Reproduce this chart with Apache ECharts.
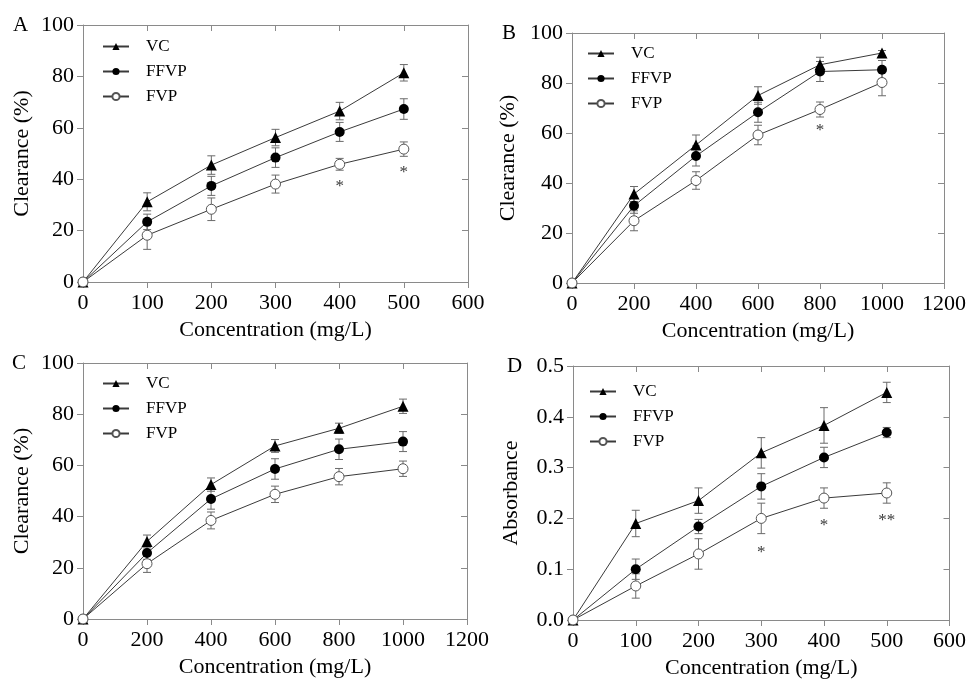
<!DOCTYPE html>
<html>
<head>
<meta charset="utf-8">
<script src="https://cdn.jsdelivr.net/npm/echarts@6/dist/echarts.min.js"></script>
<style>
  html, body { margin: 0; padding: 0; background: #fff; }
  #chart { width: 969px; height: 680px; }
</style>
</head>
<body>
<div id="chart"></div>
<script>
// Concentrations (mg/L)
const concAD = [0, 100, 200, 300, 400, 500];
const concBC = [0, 200, 400, 600, 800, 1000];

// Panel A - clearance (%)
const vcA = [0, 31.2, 45.5, 56.2, 66.5, 81.4];
const vcAErr = [0, 3.5, 3.6, 3.2, 3.4, 3.2];
const ffvpA = [0, 23.4, 37.4, 48.4, 58.4, 67.3];
const ffvpAErr = [0, 3.0, 3.7, 3.8, 3.7, 4.0];
const fvpA = [0, 18.2, 28.3, 38.1, 45.8, 51.7];
const fvpAErr = [0, 5.5, 4.4, 3.5, 2.3, 2.8];
const starXA = [400, 500];
const starYA = [38.6, 44.2];
const starTextA = ["*", "*"];

// Panel B - clearance (%)
const vcB = [0, 35.6, 55.2, 75.0, 87.3, 92.0];
const vcBErr = [0, 3.0, 4.0, 3.5, 3.0, 1.0];
const ffvpB = [0, 30.9, 50.8, 68.3, 84.6, 85.3];
const ffvpBErr = [0, 3.0, 4.0, 4.0, 4.0, 3.7];
const fvpB = [0, 24.9, 41.0, 59.2, 69.4, 80.2];
const fvpBErr = [0, 4.0, 3.5, 3.9, 3.0, 5.3];
const starXB = [800];
const starYB = [62.6];
const starTextB = ["*"];

// Panel C - clearance (%)
const vcC = [0, 30.3, 52.5, 67.6, 74.5, 83.1];
const vcCErr = [0, 2.5, 2.6, 2.5, 2.0, 2.8];
const ffvpC = [0, 25.8, 46.9, 58.6, 66.3, 69.3];
const ffvpCErr = [0, 2.5, 4.0, 4.0, 4.0, 3.9];
const fvpC = [0, 21.6, 38.5, 48.7, 55.6, 58.7];
const fvpCErr = [0, 3.4, 3.3, 3.2, 3.2, 3.0];

// Panel D - absorbance
const vcD = [0, 0.190, 0.235, 0.329, 0.383, 0.448];
const vcDErr = [0, 0.026, 0.025, 0.030, 0.035, 0.020];
const ffvpD = [0, 0.100, 0.184, 0.263, 0.320, 0.369];
const ffvpDErr = [0, 0.020, 0.014, 0.025, 0.020, 0.010];
const fvpD = [0, 0.067, 0.130, 0.200, 0.240, 0.250];
const fvpDErr = [0, 0.024, 0.030, 0.030, 0.020, 0.020];
const starXD = [300, 400, 500];
const starYD = [0.140, 0.194, 0.203];
const starTextD = ["*", "*", "**"];

const FONT = "Liberation Serif";
const AXIS_GRAY = "#8a8a8a";
const LINE_GRAY = "#3a3a3a";
const ERR_GRAY = "#6a6a6a";

const grids = [
  { left: 83, top: 25, width: 385, height: 257 },
  { left: 572, top: 33, width: 374, height: 250 },
  { left: 83, top: 363, width: 384, height: 256 },
  { left: 573, top: 366, width: 380, height: 254 },
];

const panels = [
  { x: concAD, xMax: 600, xInt: 100, yMax: 100, yInt: 20, yName: "Clearance (%)", yGap: 50, dec: 0,
    vc: [vcA, vcAErr], ffvp: [ffvpA, ffvpAErr], fvp: [fvpA, fvpAErr],
    stars: [starXA, starYA, starTextA], legend: [102, 38] },
  { x: concBC, xMax: 1200, xInt: 200, yMax: 100, yInt: 20, yName: "Clearance (%)", yGap: 53, dec: 0,
    vc: [vcB, vcBErr], ffvp: [ffvpB, ffvpBErr], fvp: [fvpB, fvpBErr],
    stars: [starXB, starYB, starTextB], legend: [587, 45] },
  { x: concBC, xMax: 1200, xInt: 200, yMax: 100, yInt: 20, yName: "Clearance (%)", yGap: 50, dec: 0,
    vc: [vcC, vcCErr], ffvp: [ffvpC, ffvpCErr], fvp: [fvpC, fvpCErr],
    stars: [[], [], []], legend: [102, 375] },
  { x: concAD, xMax: 600, xInt: 100, yMax: 0.5, yInt: 0.1, yName: "Absorbance", yGap: 51, dec: 1,
    vc: [vcD, vcDErr], ffvp: [ffvpD, ffvpDErr], fvp: [fvpD, fvpDErr],
    stars: [starXD, starYD, starTextD], legend: [589, 383] },
];

const letters = [
  { t: "A", x: 13, y: 25 },
  { t: "B", x: 502, y: 33 },
  { t: "C", x: 12, y: 363 },
  { t: "D", x: 507, y: 366 },
];

// error bar: vertical line with caps
function renderErr(params, api) {
  const x = api.value(0);
  const lo = api.coord([x, api.value(1)]);
  const hi = api.coord([x, api.value(2)]);
  const w = 4;
  const st = { stroke: ERR_GRAY, lineWidth: 1 };
  return {
    type: "group",
    children: [
      { type: "line", shape: { x1: lo[0], y1: lo[1], x2: hi[0], y2: hi[1] }, style: st },
      { type: "line", shape: { x1: lo[0] - w, y1: lo[1], x2: lo[0] + w, y2: lo[1] }, style: st },
      { type: "line", shape: { x1: hi[0] - w, y1: hi[1], x2: hi[0] + w, y2: hi[1] }, style: st },
    ],
  };
}

const styles = {
  VC: { symbol: "triangle", symbolSize: 11, itemStyle: { color: "#000", borderColor: "#000", borderWidth: 0 } },
  FFVP: { symbol: "circle", symbolSize: 10, itemStyle: { color: "#000", borderColor: "#000", borderWidth: 0 } },
  FVP: { symbol: "circle", symbolSize: 10, itemStyle: { color: "#fff", borderColor: "#555", borderWidth: 1 } },
};

const xAxes = [];
const yAxes = [];
const series = [];
const legends = [];

panels.forEach((p, g) => {
  // bottom + top mirror
  xAxes.push({
    type: "value", gridIndex: g, min: 0, max: p.xMax, interval: p.xInt, position: "bottom",
    name: "Concentration (mg/L)", nameLocation: "middle", nameGap: 37,
    nameTextStyle: { fontFamily: FONT, fontSize: 22, color: "#000" },
    axisLine: { onZero: false, lineStyle: { color: AXIS_GRAY } },
    axisTick: { length: 6, lineStyle: { color: AXIS_GRAY } },
    axisLabel: { fontFamily: FONT, fontSize: 22, color: "#000", margin: 10, formatter: (v) => String(v) },
    splitLine: { show: false },
  });
  xAxes.push({
    type: "value", gridIndex: g, min: 0, max: p.xMax, interval: p.xInt, position: "top",
    axisLine: { onZero: false, lineStyle: { color: AXIS_GRAY } },
    axisTick: { inside: true, length: 6, lineStyle: { color: AXIS_GRAY } },
    axisLabel: { show: false },
    splitLine: { show: false },
  });
  yAxes.push({
    type: "value", gridIndex: g, min: 0, max: p.yMax, interval: p.yInt, position: "left",
    name: p.yName, nameLocation: "middle", nameGap: p.yGap,
    nameTextStyle: { fontFamily: FONT, fontSize: 22, color: "#000" },
    axisLine: { show: true, onZero: false, lineStyle: { color: AXIS_GRAY } },
    axisTick: { show: true, length: 6, lineStyle: { color: AXIS_GRAY } },
    axisLabel: { fontFamily: FONT, fontSize: 22, color: "#000", margin: 9,
      formatter: (v) => v.toFixed(p.dec) },
    splitLine: { show: false },
  });
  yAxes.push({
    type: "value", gridIndex: g, min: 0, max: p.yMax, interval: p.yInt, position: "right",
    axisLine: { show: true, onZero: false, lineStyle: { color: AXIS_GRAY } },
    axisTick: { show: true, inside: true, length: 6, lineStyle: { color: AXIS_GRAY } },
    axisLabel: { show: false },
    splitLine: { show: false },
  });

  [["VC", p.vc], ["FFVP", p.ffvp], ["FVP", p.fvp]].forEach(([name, [vals, errs]]) => {
    series.push({
      type: "custom", name: name + " err", xAxisIndex: 2 * g, yAxisIndex: 2 * g,
      renderItem: renderErr, z: 1, silent: true,
      data: p.x.map((x, i) => [x, vals[i] - errs[i], vals[i] + errs[i]]).filter((d, i) => errs[i] > 0),
    });
  });
  [["VC", p.vc], ["FFVP", p.ffvp], ["FVP", p.fvp]].forEach(([name, [vals]]) => {
    series.push(Object.assign({
      type: "line", name: name, xAxisIndex: 2 * g, yAxisIndex: 2 * g, z: 3,
      lineStyle: { color: LINE_GRAY, width: 1 },
      showAllSymbol: true, animation: false,
      data: p.x.map((x, i) => [x, vals[i]]),
    }, styles[name]));
  });
  const [sx, sy, st] = p.stars;
  if (sx.length) {
    series.push({
      type: "scatter", xAxisIndex: 2 * g, yAxisIndex: 2 * g, symbolSize: 0, silent: true,
      data: sx.map((x, i) => ({ value: [x, sy[i]], label: { formatter: st[i] } })),
      label: { show: true, position: "inside", offset: [0, 4], fontFamily: FONT, fontSize: 17, color: "#000" },
    });
  }

  legends.push({
    left: p.legend[0], top: p.legend[1], orient: "vertical", itemGap: 8, padding: 0,
    itemWidth: 26, itemHeight: 9,
    data: ["VC", "FFVP", "FVP"],
    textStyle: { fontFamily: FONT, fontSize: 17, color: "#000", padding: [0, 0, 0, 12] },
  });
});

const chart = echarts.init(document.getElementById("chart"));
chart.setOption({
  animation: false,
  backgroundColor: "#fff",
  grid: grids,
  xAxis: xAxes,
  yAxis: yAxes,
  legend: legends,
  series: series,
  graphic: letters.map((l) => ({
    type: "text", left: l.x, top: l.y - 10,
    style: { text: l.t, fontFamily: FONT, fontSize: 21, fill: "#000" },
  })),
});
</script>
</body>
</html>
